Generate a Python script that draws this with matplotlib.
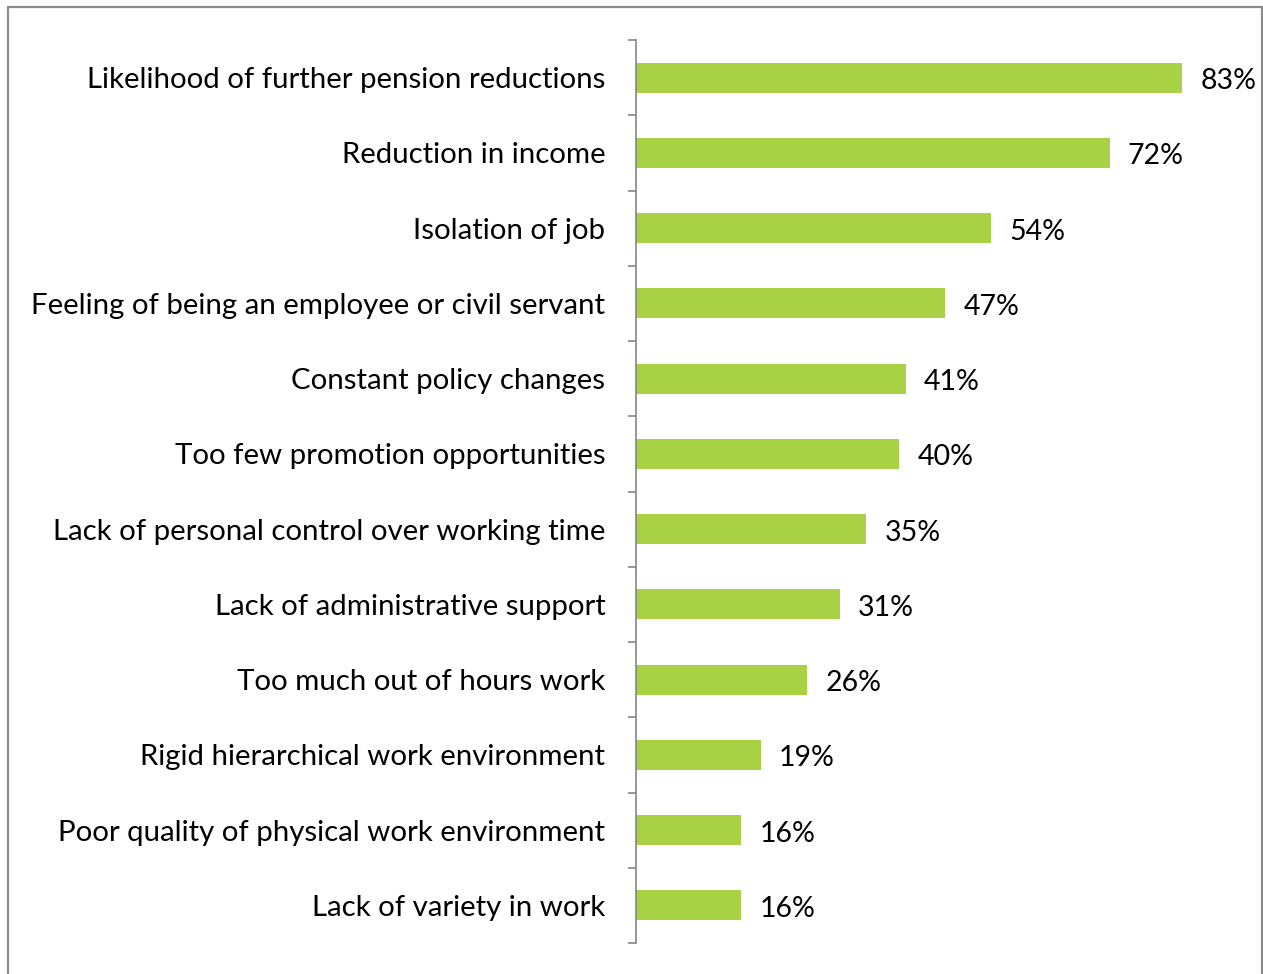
import matplotlib
matplotlib.use('Agg')
import matplotlib.pyplot as plt
import matplotlib.transforms as mtransforms
from matplotlib.patches import Rectangle

reasons = [
    'Likelihood of further pension reductions',
    'Reduction in income',
    'Isolation of job',
    'Feeling of being an employee or civil servant',
    'Constant policy changes',
    'Too few promotion opportunities',
    'Lack of personal control over working time',
    'Lack of administrative support',
    'Too much out of hours work',
    'Rigid hierarchical work environment',
    'Poor quality of physical work environment',
    'Lack of variety in work',
]
pct = [83, 72, 54, 47, 41, 40, 35, 31, 26, 19, 16, 16]

plt.rcParams['font.family'] = ['Lato', 'DejaVu Sans']

W, H = 1263, 974
fig = plt.figure(figsize=(W / 100, H / 100), dpi=100)

# chart frame
fig.patches.append(Rectangle((7.5 / W, -0.05), (1254.5) / W, 1.05 - 6.5 / H,
                             transform=fig.transFigure, fill=False,
                             edgecolor='#8c8c8c', linewidth=1.6))

x0, x1 = 636, 1262
ytop, ybot = 40, 943
ax = fig.add_axes([x0 / W, (H - ybot) / H, (x1 - x0) / W, (ybot - ytop) / H])

n = len(reasons)
ypos = list(range(n))
ax.barh(ypos, pct, height=0.4, color='#a9d144', zorder=2)
ax.set_ylim(n - 0.5, -0.5)
ax.set_xlim(0, (x1 - x0) / 6.58)

for y, v in zip(ypos, pct):
    ax.annotate(f'{v}%', (v, y), xytext=(13, -2.5), textcoords='offset points',
                va='center', ha='left', fontsize=20.5, color='black')

ax.set_yticks([i - 0.5 for i in range(n + 1)])
ax.set_yticklabels([])
ax.set_yticks(ypos, minor=True)
ax.set_yticklabels(reasons, minor=True, fontsize=21.2)
# nudge the category labels down a touch
shift = mtransforms.ScaledTranslation(0, -2.5 / 72, fig.dpi_scale_trans)
for lbl in ax.get_yticklabels(minor=True):
    lbl.set_va('center_baseline')
    lbl.set_transform(lbl.get_transform() + shift)
ax.tick_params(axis='y', which='major', length=6, width=1.2, color='#868686', direction='out')
ax.tick_params(axis='y', which='minor', length=0, pad=22)
ax.set_xticks([])

for s in ['top', 'right', 'bottom']:
    ax.spines[s].set_visible(False)
ax.spines['left'].set_color('#868686')
ax.spines['left'].set_linewidth(1.2)

fig.savefig('out.png', dpi=100)
